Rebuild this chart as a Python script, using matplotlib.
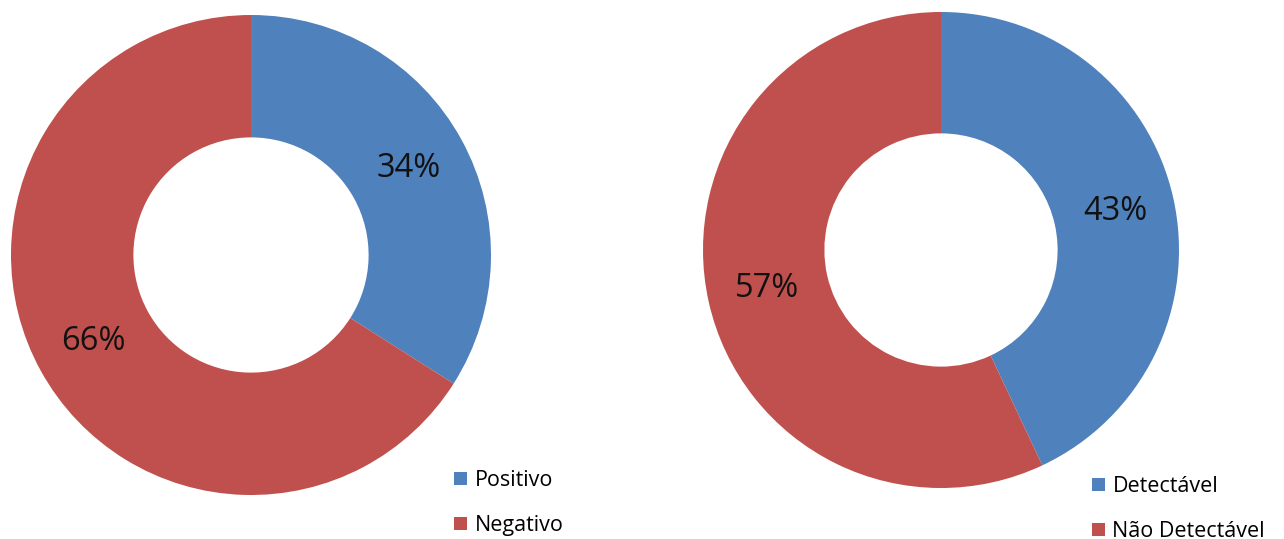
import matplotlib
matplotlib.use("Agg")
import matplotlib.pyplot as plt
from matplotlib.patches import Patch

labels1 = ["Positivo", "Negativo"]
values1 = [34, 66]
labels2 = ["Detectável", "Não Detectável"]
values2 = [43, 57]
colors = ["#4F81BD", "#C0504D"]

W, H = 1284, 539
fig = plt.figure(figsize=(W / 100, H / 100), dpi=100)
plt.rcParams['font.family'] = ['Open Sans', 'DejaVu Sans']


def donut(cx, cy, r, labels, values, lx, ly):
    ax = fig.add_axes([(cx - r) / W, (H - cy - r) / H, 2 * r / W, 2 * r / H])
    ax.pie(values, colors=colors, startangle=90, counterclock=False, radius=1,
           wedgeprops=dict(width=0.51, edgecolor="none"),
           autopct=lambda p: f"{p:.0f}%", pctdistance=0.75,
           textprops=dict(fontsize=23.5, color="#111111"))
    ax.set_xlim(-1, 1)
    ax.set_ylim(-1, 1)
    ax.set_aspect("equal")
    ax.axis("off")
    handles = [Patch(facecolor=c, edgecolor="none") for c in colors]
    fig.legend(handles, labels, loc="upper left",
               bbox_to_anchor=(lx / W, 1 - ly / H), frameon=False,
               fontsize=15.5, handlelength=0.6, handleheight=0.6,
               handletextpad=0.35, labelspacing=1.12, borderpad=0, borderaxespad=0)


donut(251, 255, 240, labels1, values1, 454, 470)
donut(941, 250, 238, labels2, values2, 1092, 476)

fig.savefig("out.png", dpi=100, facecolor="white")
